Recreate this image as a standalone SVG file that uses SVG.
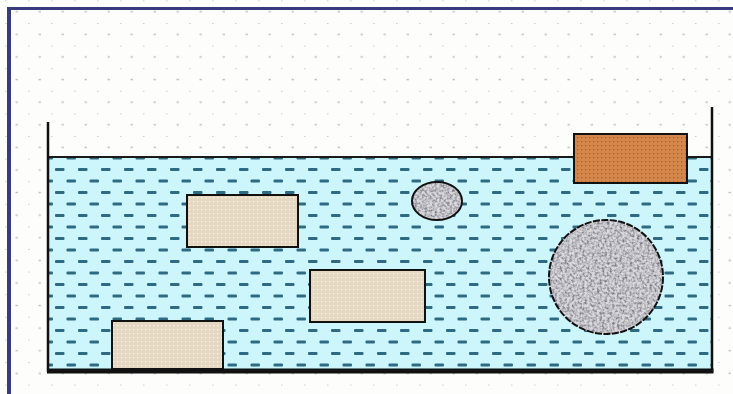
<svg xmlns="http://www.w3.org/2000/svg" width="733" height="394" viewBox="0 0 733 394">
<defs>
<style>
.obj{stroke:#111;stroke-width:2}
.wall{stroke:#111;fill:none}
</style>
<pattern id="grid" x="28" y="23" width="23" height="22.6" patternUnits="userSpaceOnUse">
<rect x="-1" y="-0.7" width="2.5" height="1.5" fill="#c4c4cc"/>
<rect x="10.5" y="10.6" width="2.5" height="1.5" fill="#c4c4cc"/>
</pattern>
<pattern id="water" x="55" y="168" width="23" height="23" patternUnits="userSpaceOnUse">
<rect width="23" height="23" fill="#cdf6fc"/>
<rect x="0" y="0" width="9.5" height="3" rx="1" fill="#2f6a82"/>
<rect x="11.5" y="11.5" width="9.5" height="3" rx="1" fill="#2f6a82"/>
</pattern>
<pattern id="beige" width="4" height="4" patternUnits="userSpaceOnUse">
<rect width="4" height="4" fill="#e4d8c2"/>
<rect x="1" y="1" width="1.3" height="1.3" fill="#f8f4e6"/>
</pattern>
<pattern id="orange" width="4" height="4" patternUnits="userSpaceOnUse">
<rect width="4" height="4" fill="#d4864b"/>
<rect x="1" y="1" width="1.4" height="1.4" fill="#ad6432"/>
</pattern>
<filter id="granite" x="0" y="0" width="1" height="1">
<feTurbulence type="fractalNoise" baseFrequency="0.4" numOctaves="2" seed="3" result="n"/>
<feColorMatrix in="n" type="matrix" values="2.2 0 0 0 -0.45  2.2 0 0 0 -0.45  2.2 0 0 0 -0.4  0 0 0 0 0.5" result="c"/>
<feComposite in="c" in2="SourceGraphic" operator="in" result="t"/>
<feMerge><feMergeNode in="SourceGraphic"/><feMergeNode in="t"/></feMerge>
</filter>
</defs>
<g id="background">
<rect width="733" height="394" fill="#fdfdfb"/>
<rect width="733" height="394" fill="url(#grid)"/>
<rect x="7" y="7" width="726" height="3" fill="#3a3a7e"/>
<rect x="7" y="7" width="4" height="387" fill="#3a3a7e"/>
</g>
<g id="water">
<rect x="48" y="157" width="664" height="214" fill="url(#water)"/>
<line x1="48" y1="157" x2="712" y2="157" stroke="#1a1a1a" stroke-width="2"/>
</g>
<g id="container">
<line class="wall" x1="48" y1="122" x2="48" y2="372" stroke-width="2.5"/>
<line class="wall" x1="712" y1="107" x2="712" y2="372" stroke-width="2.5"/>
<line class="wall" x1="47" y1="371" x2="713.5" y2="371" stroke-width="5"/>
</g>
<g id="block-upper">
<rect class="obj" x="187" y="195" width="111" height="52" fill="url(#beige)"/>
</g>
<g id="block-middle">
<rect class="obj" x="310" y="270" width="115" height="52" fill="url(#beige)"/>
</g>
<g id="block-bottom">
<rect class="obj" x="112" y="321" width="111" height="48" fill="url(#beige)"/>
</g>
<g id="block-floating">
<rect class="obj" x="574" y="134" width="113" height="49" fill="url(#orange)"/>
</g>
<g id="ball-small">
<ellipse cx="437" cy="201" rx="25" ry="19" fill="#a9a7ad" filter="url(#granite)"/>
<ellipse class="obj" cx="437" cy="201" rx="25" ry="19" fill="none" stroke-width="1.8"/>
</g>
<g id="ball-large">
<circle cx="606" cy="277" r="57" fill="#a9a7ad" filter="url(#granite)"/>
<circle class="obj" cx="606" cy="277" r="57" fill="none" stroke-width="2" stroke-dasharray="7 1.5"/>
</g>
</svg>
